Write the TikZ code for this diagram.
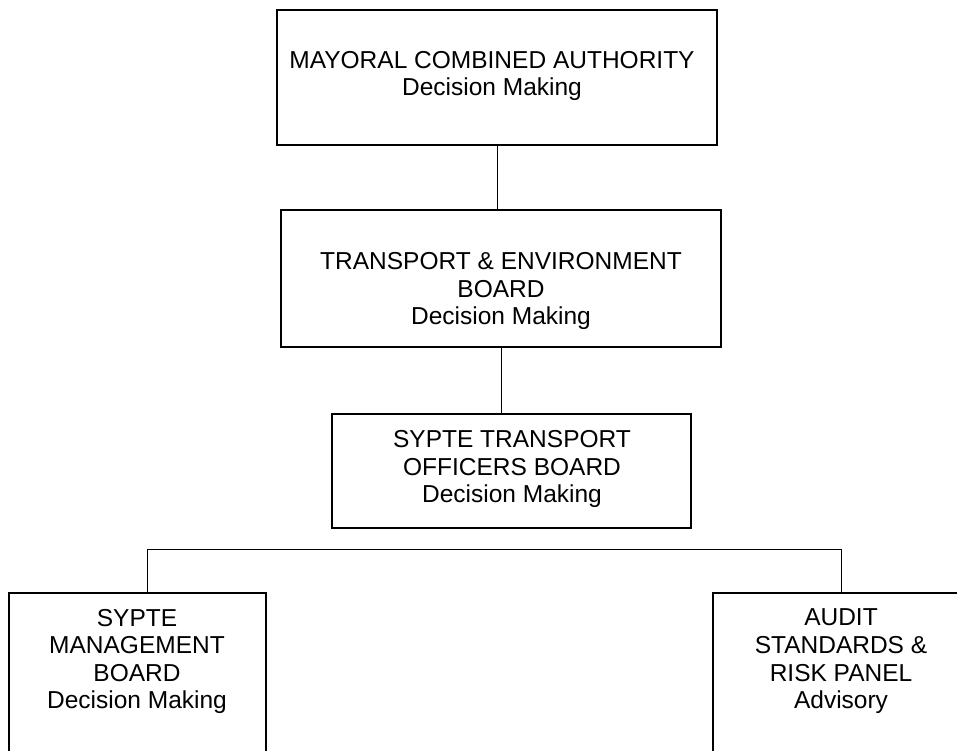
\documentclass[tikz,border=0pt]{standalone}
\usepackage{fontspec}
\setmainfont{Liberation Sans}
\begin{document}
\begin{tikzpicture}[%
      x=1pt,y=-1pt,
      block/.style={rectangle,line width=1.4pt,draw=black,inner sep=0pt},
      blocktext/.style={align=center,inner sep=0pt,font=\fontsize{24.5}{27.6}\selectfont},
      link/.style={line width=1pt}
      ]
      \useasboundingbox (0,0) rectangle (957,751);
      \clip (0,0) rectangle (957,751);
      \draw (497,77.5) node[block,minimum width=440,minimum height=135] (M) {};
      \draw (501,278.5) node[block,minimum width=440,minimum height=137] (T) {};
      \draw (511.5,471) node[block,minimum width=359,minimum height=114] (O) {};
      \draw (137.5,696.5) node[block,minimum width=257,minimum height=207] (S) {};
      \draw (841,696.5) node[block,minimum width=256,minimum height=207] (A) {};
      \draw (492,76) node[blocktext] (Mt) {MAYORAL COMBINED AUTHORITY\\Decision Making};
      \draw (501,291) node[blocktext] (Tt) {TRANSPORT \& ENVIRONMENT\\BOARD\\Decision Making};
      \draw (512,469) node[blocktext] (Ot) {SYPTE TRANSPORT\\OFFICERS BOARD\\Decision Making};
      \draw (137,661.5) node[blocktext] (St) {SYPTE\\MANAGEMENT\\BOARD\\Decision Making};
      \draw (841,661.5) node[blocktext] (At) {AUDIT\\STANDARDS \&\\RISK PANEL\\Advisory};
      \coordinate (bar) at (0,549.5);
      \draw[link] (M.south) -- (M.south |- T.north);
      \draw[link] (T.south) -- (T.south |- O.north);
      \draw[link] ([xshift=9.5]S.north) |- (A.north |- bar) -- (A.north);
    \end{tikzpicture}
\end{document}
